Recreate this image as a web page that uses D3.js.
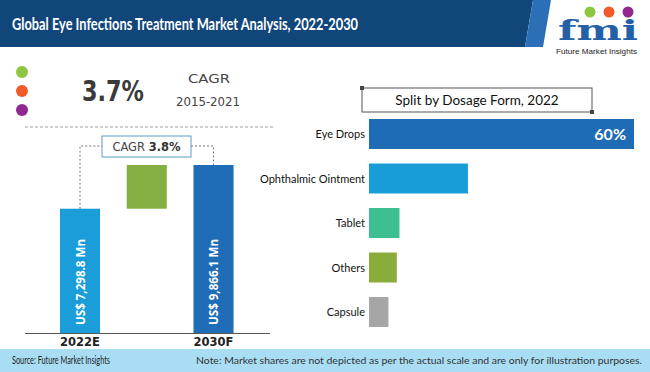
<!DOCTYPE html>
<html>
<head>
<meta charset="utf-8">
<script src="https://cdn.jsdelivr.net/npm/d3@7"></script>
<style>
  body { margin: 0; background: #fff; }
  svg { display: block; }
</style>
</head>
<body>
<div id="chart"></div>
<script>
// market size (US$ Mn)
const years = ["2022E", "2030F"];
const marketValues = [7298.8, 9866.1];
const marketLabels = ["US$ 7,298.8 Mn", "US$ 9,866.1 Mn"];
const cagrHist = "3.7%";
const cagrFcst = "3.8%";

// split by dosage form, 2022 (%)
const forms = ["Eye Drops", "Ophthalmic Ointment", "Tablet", "Others", "Capsule"];
const shares = [60, 22.4, 6.9, 6.3, 4.4];
const formColors = ["#1f6cb6", "#189dd8", "#3dbf92", "#8aac3b", "#a6a6a6"];

const W = 650, H = 372;
const svg = d3.select("#chart").append("svg")
  .attr("width", W).attr("height", H)
  .attr("viewBox", `0 0 ${W} ${H}`);

// header
svg.append("path").attr("d", "M0,0H533L525,47H0Z").attr("fill", "#11467a");
svg.append("path").attr("d", "M533,0H551L543,47H525Z").attr("fill", "#2b70b6");
svg.append("text")
  .attr("x", 12).attr("y", 30)
  .attr("font-family", "Lato").attr("font-weight", 700).attr("font-size", 17)
  .attr("fill", "#fff")
  .attr("textLength", 346).attr("lengthAdjust", "spacingAndGlyphs")
  .text("Global Eye Infections Treatment Market Analysis, 2022-2030");

// logo
const logo = svg.append("g");
[["#8dc63f", 590], ["#f15a29", 609], ["#92278f", 628]].forEach(([c, x]) => {
  logo.append("circle").attr("cx", x).attr("cy", 12).attr("r", 5.5).attr("fill", c);
});
logo.append("text")
  .attr("x", 558).attr("y", 40)
  .attr("font-family", "DejaVu Serif").attr("font-weight", 700).attr("font-size", 28)
  .attr("fill", "#2460a8")
  .attr("textLength", 80).attr("lengthAdjust", "spacingAndGlyphs")
  .text("fmi");
logo.append("text")
  .attr("x", 556).attr("y", 54)
  .attr("font-family", "Liberation Sans").attr("font-size", 7.5)
  .attr("fill", "#222")
  .attr("textLength", 81).attr("lengthAdjust", "spacingAndGlyphs")
  .text("Future Market Insights");

// left panel: dots + historic cagr
[["#8dc63f", 72], ["#f15a29", 91], ["#92278f", 110]].forEach(([c, y]) => {
  svg.append("circle").attr("cx", 22).attr("cy", y).attr("r", 6).attr("fill", c);
});
svg.append("text")
  .attr("x", 82).attr("y", 101)
  .attr("font-family", "DejaVu Sans").attr("font-weight", 700).attr("font-size", 29)
  .attr("fill", "#3a3a3a")
  .attr("textLength", 62).attr("lengthAdjust", "spacingAndGlyphs")
  .text(cagrHist);
svg.append("text")
  .attr("x", 209).attr("y", 83).attr("text-anchor", "middle")
  .attr("font-family", "DejaVu Sans").attr("font-size", 12.5)
  .attr("fill", "#444")
  .attr("textLength", 42).attr("lengthAdjust", "spacingAndGlyphs")
  .text("CAGR");
svg.append("text")
  .attr("x", 208).attr("y", 106).attr("text-anchor", "middle")
  .attr("font-family", "DejaVu Sans").attr("font-size", 13)
  .attr("fill", "#444")
  .attr("textLength", 64).attr("lengthAdjust", "spacingAndGlyphs")
  .text("2015-2021");
svg.append("line")
  .attr("x1", 25).attr("x2", 275).attr("y1", 127).attr("y2", 127)
  .attr("stroke", "#888").attr("stroke-dasharray", "3,2").attr("stroke-width", 0.8);

// left panel: market size bars
const steps = [years[0], "growth", years[1]];
const xL = d3.scaleBand().domain(steps).range([26.6, 266.9]).paddingInner(0.4).paddingOuter(0.5);
const yL = d3.scaleLinear().domain([0, d3.max(marketValues)]).range([333, 165]);

const left = svg.append("g");
left.selectAll("rect.mkt")
  .data(years)
  .join("rect")
  .attr("class", "mkt")
  .attr("x", d => xL(d))
  .attr("width", xL.bandwidth())
  .attr("y", (d, i) => yL(marketValues[i]))
  .attr("height", (d, i) => yL(0) - yL(marketValues[i]))
  .attr("fill", (d, i) => i === 0 ? "#1a9dd9" : "#1f6db6");

// growth block between the two bar tops
left.append("rect")
  .attr("x", xL("growth"))
  .attr("width", xL.bandwidth())
  .attr("y", yL(marketValues[1]))
  .attr("height", yL(marketValues[0]) - yL(marketValues[1]))
  .attr("fill", "#84b043");

// values inside bars
left.selectAll("text.val")
  .data(years)
  .join("text")
  .attr("class", "val")
  .attr("transform", d => `translate(${xL(d) + xL.bandwidth() / 2 + 4.5},${yL(0) - 8}) rotate(-90)`)
  .attr("font-family", "Open Sans").attr("font-weight", 700).attr("font-size", 12)
  .attr("fill", "#fff")
  .attr("textLength", 86).attr("lengthAdjust", "spacingAndGlyphs")
  .text((d, i) => marketLabels[i]);

// baseline + x labels
left.append("line")
  .attr("x1", 25).attr("x2", 270).attr("y1", yL(0) + 0.5).attr("y2", yL(0) + 0.5)
  .attr("stroke", "#555").attr("stroke-width", 1);
left.selectAll("text.yr")
  .data(years)
  .join("text")
  .attr("class", "yr")
  .attr("x", d => xL(d) + xL.bandwidth() / 2)
  .attr("y", 346)
  .attr("text-anchor", "middle")
  .attr("font-family", "DejaVu Sans").attr("font-weight", 700).attr("font-size", 11.5)
  .attr("fill", "#222")
  .text(d => d);

// cagr callout with dashed connectors
const boxX = 102, boxY = 136, boxW = 89, boxH = 21, connY = 146;
const c0 = xL(years[0]) + xL.bandwidth() / 2;
const c1 = xL(years[1]) + xL.bandwidth() / 2;
left.append("path")
  .attr("d", `M${c0},${yL(marketValues[0])}V${connY}H${boxX}M${boxX + boxW},${connY}H${c1}V${yL(marketValues[1])}`)
  .attr("fill", "none").attr("stroke", "#666").attr("stroke-width", 0.9).attr("stroke-dasharray", "2,2");
left.append("rect")
  .attr("x", boxX).attr("y", boxY).attr("width", boxW).attr("height", boxH)
  .attr("fill", "#fff").attr("stroke", "#5b9ec7").attr("stroke-width", 1);
const ct = left.append("text")
  .attr("x", boxX + boxW / 2).attr("y", boxY + 15).attr("text-anchor", "middle")
  .attr("font-family", "DejaVu Sans").attr("font-size", 11.5).attr("fill", "#444");
ct.append("tspan").text("CAGR ");
ct.append("tspan").attr("font-weight", 700).attr("fill", "#333").text(cagrFcst);

// right panel: title box
svg.append("rect")
  .attr("x", 362).attr("y", 88).attr("width", 230).attr("height", 24)
  .attr("fill", "#fff").attr("stroke", "#555").attr("stroke-width", 1);
svg.append("rect").attr("x", 360).attr("y", 86).attr("width", 4).attr("height", 4).attr("fill", "#444");
svg.append("rect").attr("x", 590).attr("y", 110).attr("width", 4).attr("height", 4).attr("fill", "#444");
svg.append("text")
  .attr("x", 477).attr("y", 105).attr("text-anchor", "middle")
  .attr("font-family", "Lato").attr("font-size", 13.5).attr("fill", "#111")
  .text("Split by Dosage Form, 2022");

// right panel: horizontal bars
const yR = d3.scaleBand().domain(forms).range([111.75, 334.25]).paddingInner(0.326).paddingOuter(0.163);
const xR = d3.scaleLinear().domain([0, d3.max(shares)]).range([369, 634]);

const right = svg.append("g");
right.selectAll("rect")
  .data(forms)
  .join("rect")
  .attr("x", xR(0))
  .attr("y", d => yR(d))
  .attr("height", yR.bandwidth())
  .attr("width", (d, i) => xR(shares[i]) - xR(0))
  .attr("fill", (d, i) => formColors[i]);

right.selectAll("text.cat")
  .data(forms)
  .join("text")
  .attr("class", "cat")
  .attr("x", xR(0) - 4)
  .attr("y", d => yR(d) + yR.bandwidth() / 2 + 4)
  .attr("text-anchor", "end")
  .attr("font-family", "Lato").attr("font-size", 11).attr("fill", "#111")
  .text(d => d);

right.append("text")
  .attr("x", xR(shares[0]) - 8)
  .attr("y", yR(forms[0]) + yR.bandwidth() / 2 + 6)
  .attr("text-anchor", "end")
  .attr("font-family", "Lato").attr("font-weight", 700).attr("font-size", 16).attr("fill", "#fff")
  .text(shares[0] + "%");

// footer
svg.append("rect").attr("x", 0).attr("y", 349).attr("width", W).attr("height", H - 349).attr("fill", "#a9ddf3");
svg.append("text")
  .attr("x", 12).attr("y", 364)
  .attr("font-family", "Lato").attr("font-size", 10.5).attr("fill", "#222")
  .attr("textLength", 98).attr("lengthAdjust", "spacingAndGlyphs")
  .text("Source: Future Market Insights");
svg.append("text")
  .attr("x", 642).attr("y", 364).attr("text-anchor", "end")
  .attr("font-family", "Lato").attr("font-size", 10).attr("fill", "#333")
  .attr("textLength", 446).attr("lengthAdjust", "spacingAndGlyphs")
  .text("Note: Market shares are not depicted as per the actual scale and are only for illustration purposes.");
</script>
</body>
</html>
